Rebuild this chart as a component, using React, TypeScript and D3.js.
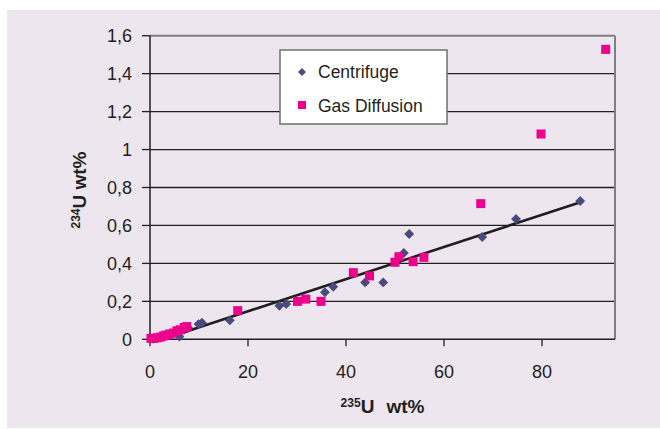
import React from "react";
import * as d3 from "d3";

// Centrifuge samples: 235U wt% vs 234U wt%
const centrifugeX = [0.7, 2, 3.5, 6.0, 7.8, 9.9, 10.6, 16.3, 26.4, 27.8, 35.7, 37.4, 43.9, 47.6, 51.8, 52.9, 67.8, 74.7, 87.8];
const centrifugeY = [0.003, 0.01, 0.02, 0.015, 0.06, 0.08, 0.087, 0.1, 0.177, 0.186, 0.248, 0.277, 0.3, 0.3, 0.455, 0.555, 0.539, 0.634, 0.729];

// Gas diffusion samples
const gasX = [0.2, 0.8, 1.5, 2.2, 2.8, 3.3, 4.0, 4.8, 5.5, 6.2, 7.0, 7.5, 17.9, 30.1, 31.8, 34.9, 41.5, 44.8, 50.0, 50.8, 53.7, 55.9, 67.5, 79.8, 93.0];
const gasY = [0.005, 0.005, 0.008, 0.012, 0.018, 0.022, 0.028, 0.033, 0.045, 0.05, 0.062, 0.067, 0.151, 0.2, 0.212, 0.2, 0.351, 0.334, 0.406, 0.435, 0.409, 0.432, 0.715, 1.082, 1.528];

// Linear trend line through the centrifuge series
const trendX = [2.6, 88];
const trendY = [0, 0.724];

const xTicks = [0, 20, 40, 60, 80];
const yTicks = [0, 0.2, 0.4, 0.6, 0.8, 1, 1.2, 1.4, 1.6];
const yTickLabels = ["0", "0,2", "0,4", "0,6", "0,8", "1", "1,2", "1,4", "1,6"];

const legendLabels = ["Centrifuge", "Gas Diffusion"];

const W = 660;
const H = 429;
const FONT = "'Liberation Sans', Arial, sans-serif";
const DIAMOND = "#4a4a7e";
const PINK = "#ec008c";

export default function App() {
  const left = 150;
  const right = 615;
  const top = 35.7;
  const bottom = 339.3;

  const x = d3.scaleLinear().domain([0, 94.9]).range([left, right]);
  const y = d3.scaleLinear().domain([0, 1.6]).range([bottom, top]);

  const centrifuge = centrifugeX.map((v, i) => ({ x: v, y: centrifugeY[i] }));
  const gas = gasX.map((v, i) => ({ x: v, y: gasY[i] }));
  const trend = trendX.map((v, i) => ({ x: v, y: trendY[i] }));

  const line = d3
    .line<{ x: number; y: number }>()
    .x((d) => x(d.x))
    .y((d) => y(d.y));

  const diamond = d3.symbol().type(d3.symbolDiamond2).size(62)();
  const sq = 9;

  return (
    <svg
      width={W}
      height={H}
      style={{ position: "absolute", left: 0, top: 0, fontFamily: FONT }}
    >
      <rect x={0} y={0} width={W} height={H} fill="#ffffff" />
      <rect x={7} y={10} width={W - 7} height={418} fill="#ede6ee" />

      {/* horizontal gridlines */}
      {yTicks.slice(1, -1).map((t) => (
        <line key={t} x1={left} x2={right} y1={y(t)} y2={y(t)} stroke="#231f20" strokeWidth={1.3} />
      ))}
      {/* plot frame: top and right in grey */}
      <line x1={left} x2={right} y1={top} y2={top} stroke="#7f7f7f" strokeWidth={2} />
      <line x1={right} x2={right} y1={top} y2={bottom} stroke="#7f7f7f" strokeWidth={2} />

      {/* axes */}
      <line x1={left} x2={right} y1={bottom} y2={bottom} stroke="#231f20" strokeWidth={1.5} />
      <line x1={left} x2={left} y1={top} y2={bottom} stroke="#231f20" strokeWidth={1.5} />

      {/* y ticks & labels */}
      {yTicks.map((t, i) => (
        <g key={t}>
          <line x1={left - 8} x2={left} y1={y(t)} y2={y(t)} stroke="#231f20" strokeWidth={1.3} />
          <text
            x={132}
            y={y(t)}
            dy="0.36em"
            textAnchor="end"
            fontSize={18}
            fill="#231f20"
          >
            {yTickLabels[i]}
          </text>
        </g>
      ))}

      {/* x ticks & labels */}
      {xTicks.map((t) => (
        <g key={t}>
          <line x1={x(t)} x2={x(t)} y1={bottom} y2={bottom + 7} stroke="#231f20" strokeWidth={1.3} />
          <text x={x(t)} y={377.5} textAnchor="middle" fontSize={18} fill="#231f20">
            {t}
          </text>
        </g>
      ))}

      {/* axis titles */}
      <text x={(left + right) / 2} y={412.5} textAnchor="middle" fontSize={19} fontWeight="bold" fill="#231f20">
        <tspan fontSize={12} dy={-6}>235</tspan>
        <tspan dy={6}>U</tspan>
        <tspan dx={12}>wt%</tspan>
      </text>
      <text
        transform={`translate(85.5, 190) rotate(-90)`}
        textAnchor="middle"
        fontSize={19}
        fontWeight="bold"
        fill="#231f20"
      >
        <tspan fontSize={12} dy={-6}>234</tspan>
        <tspan dy={6}>U wt%</tspan>
      </text>

      {/* trend line */}
      <path d={line(trend) || ""} fill="none" stroke="#1e1e1e" strokeWidth={2.6} />

      {/* centrifuge markers */}
      {centrifuge.map((d, i) => (
        <path key={"c" + i} d={diamond || ""} transform={`translate(${x(d.x)},${y(d.y)})`} fill={DIAMOND} />
      ))}

      {/* gas diffusion markers */}
      {gas.map((d, i) => (
        <rect key={"g" + i} x={x(d.x) - sq / 2} y={y(d.y) - sq / 2} width={sq} height={sq} fill={PINK} />
      ))}

      {/* legend */}
      <g>
        <rect x={280} y={50} width={167} height={74} fill="#ffffff" stroke="#6f6f6f" strokeWidth={1.5} />
        <path d={d3.symbol().type(d3.symbolDiamond2).size(40)() || ""} transform="translate(302,72)" fill={DIAMOND} />
        <text x={318} y={78} fontSize={17.5} fill="#231f20">{legendLabels[0]}</text>
        <rect x={298} y={101} width={8} height={8} fill={PINK} />
        <text x={318} y={112} fontSize={17.5} fill="#231f20">{legendLabels[1]}</text>
      </g>
    </svg>
  );
}
